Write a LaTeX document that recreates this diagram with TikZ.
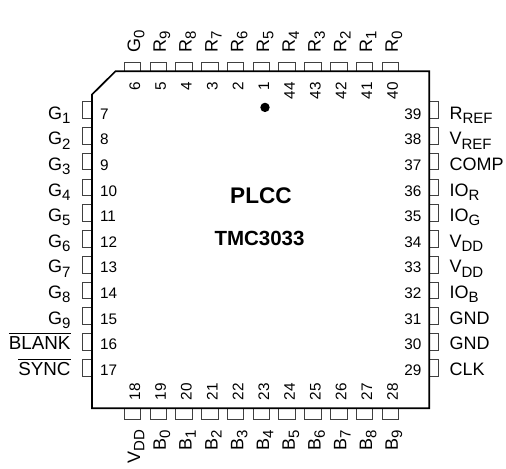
\documentclass[tikz,border=0pt]{standalone}
\usepackage{fontspec}
\setmainfont{Liberation Sans}
\newcommand\lsize{\fontsize{18bp}{20bp}\selectfont}
\newcommand\nsize{\fontsize{15.3bp}{17bp}\selectfont}
\newcommand\ssb[1]{\raisebox{-4.2bp}{\fontsize{15bp}{17bp}\selectfont #1}}
\newcommand\ovb[1]{\setbox0\hbox{\fontsize{18.8bp}{20bp}\selectfont #1}\rlap{\raisebox{15.8bp}{\rule{\wd0}{0.9bp}}}\box0}
\tikzset{
  pin/.style={draw=black!75,line width=0.8bp,fill=white},
  chip/.style={draw=black,line width=1.7bp,line join=miter},
  txt/.style={inner sep=0pt,outer sep=0pt,text=black},
  lab/.style={txt,font=\lsize},
  num/.style={txt,font=\nsize},
}
\begin{document}
\begin{tikzpicture}[x=1bp,y=-1bp]
\useasboundingbox (0,0) rectangle (506,469);
% pins
\foreach \i in {0,...,10}{
  \pgfmathsetmacro\c{132.5+25.77*\i}
  \draw[pin] (\c-8.3,62) rectangle (\c+8.3,71.3);
  \draw[pin] (\c-8.3,408.3) rectangle (\c+8.3,419);
  \pgfmathsetmacro\d{110+25.77*\i}
  \draw[pin] (82.5,\d-8.3) rectangle (92,\d+8.3);
  \draw[pin] (429.3,\d-8.3) rectangle (438.7,\d+8.3);
}
% body
\draw[chip,fill=white] (115.5,71.3) -- (429.3,71.3) -- (429.3,408.3) -- (92,408.3) -- (92,94.5) -- cycle;
\node[circle,fill=black,inner sep=0pt,minimum size=9.4bp] (dot) at (265,107.4) {};
% top
\foreach \n/\l [count=\i from 0] in {6/G\ssb{0},5/R\ssb{9},4/R\ssb{8},3/R\ssb{7},2/R\ssb{6},1/R\ssb{5},44/R\ssb{4},43/R\ssb{3},42/R\ssb{2},41/R\ssb{1},40/R\ssb{0}}{
  \pgfmathsetmacro\c{140.2+25.77*\i}
  \node[num,rotate=90,anchor=base east] (t\n) at (\c,82) {\n};
  \node[lab,rotate=90,anchor=base west] (tl\n) at (\c,53) {\l};
}
% bottom
\foreach \n/\l [count=\i from 0] in {18/V\ssb{DD},19/B\ssb{0},20/B\ssb{1},21/B\ssb{2},22/B\ssb{3},23/B\ssb{4},24/B\ssb{5},25/B\ssb{6},26/B\ssb{7},27/B\ssb{8},28/B\ssb{9}}{
  \pgfmathsetmacro\c{140.2+25.77*\i}
  \node[num,rotate=90,anchor=base west] (b\n) at (\c,400.5) {\n};
  \node[lab,rotate=90,anchor=base east] (bl\n) at (\c,430) {\l};
}
% left
\foreach \n/\l [count=\i from 0] in {7/G\ssb{1},8/G\ssb{2},9/G\ssb{3},10/G\ssb{4},11/G\ssb{5},12/G\ssb{6},13/G\ssb{7},14/G\ssb{8},15/G\ssb{9},16/\ovb{BLANK},17/\ovb{SYNC}}{
  \pgfmathsetmacro\c{119.3+25.6*\i}
  \node[num,anchor=base west] (l\n) at (100,\c) {\n};
  \node[lab,anchor=base east] (ll\n) at (70.5,\c) {\l};
}
% right
\foreach \n/\l [count=\i from 0] in {39/R\ssb{REF},38/V\ssb{REF},37/COMP,36/IO\ssb{R},35/IO\ssb{G},34/V\ssb{DD},33/V\ssb{DD},32/IO\ssb{B},31/GND,30/GND,29/CLK}{
  \pgfmathsetmacro\c{119.3+25.6*\i}
  \node[num,anchor=base east] (r\n) at (421.5,\c) {\n};
  \node[lab,anchor=base west] (rl\n) at (449.5,\c) {\l};
}
% titles
\node[txt,font=\fontsize{22.6bp}{25bp}\selectfont\bfseries,anchor=base] (plcc) at (261,204) {PLCC};
\node[txt,font=\fontsize{20.5bp}{22bp}\selectfont\bfseries,anchor=base] (part) at (259.5,246) {TMC3033};
\end{tikzpicture}
\end{document}
